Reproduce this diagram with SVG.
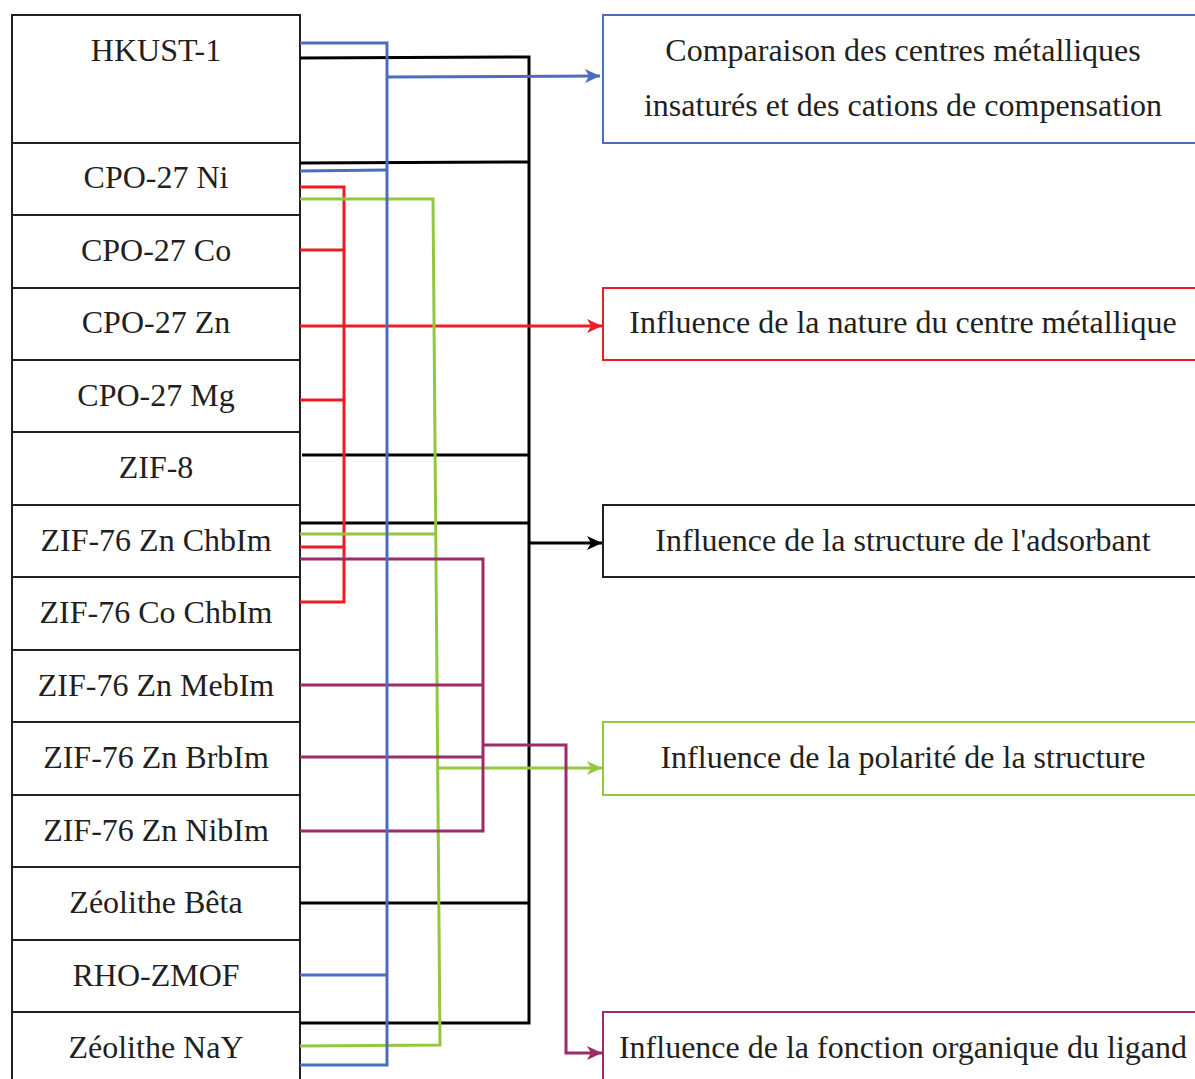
<svg xmlns="http://www.w3.org/2000/svg" width="1195" height="1079" viewBox="0 0 1195 1079">
<style>
.box{fill:#fff;stroke:#231F20;stroke-width:2}
.t{font-family:"Liberation Serif","Times New Roman",serif;font-size:32px;fill:#231F20;text-anchor:middle}
.c{fill:none;stroke-width:3;stroke-linejoin:miter}
.blue{stroke:#4A6EBD}.black{stroke:#000}.red{stroke:#EE1C25}.green{stroke:#92C83E}.purple{stroke:#9B2C6A}
</style>
<defs>
<marker id="aBlue" markerUnits="userSpaceOnUse" markerWidth="16" markerHeight="14" refX="15" refY="7" orient="auto"><path d="M0,0 L15,7 L0,14 L4,7 z" fill="#4A6EBD"/></marker>
<marker id="aBlack" markerUnits="userSpaceOnUse" markerWidth="16" markerHeight="14" refX="15" refY="7" orient="auto"><path d="M0,0 L15,7 L0,14 L4,7 z" fill="#000"/></marker>
<marker id="aRed" markerUnits="userSpaceOnUse" markerWidth="16" markerHeight="14" refX="15" refY="7" orient="auto"><path d="M0,0 L15,7 L0,14 L4,7 z" fill="#EE1C25"/></marker>
<marker id="aGreen" markerUnits="userSpaceOnUse" markerWidth="16" markerHeight="14" refX="15" refY="7" orient="auto"><path d="M0,0 L15,7 L0,14 L4,7 z" fill="#92C83E"/></marker>
<marker id="aPurple" markerUnits="userSpaceOnUse" markerWidth="16" markerHeight="14" refX="15" refY="7" orient="auto"><path d="M0,0 L15,7 L0,14 L4,7 z" fill="#9B2C6A"/></marker>
</defs>
<g id="n-hkust"><rect class="box" x="12" y="15" width="288" height="128"/><text class="t" x="156" y="61">HKUST-1</text></g>
<g id="n-cpo-ni"><rect class="box" x="12" y="143" width="288" height="72"/><text class="t" x="156" y="188">CPO-27 Ni</text></g>
<g id="n-cpo-co"><rect class="box" x="12" y="215" width="288" height="73"/><text class="t" x="156" y="261">CPO-27 Co</text></g>
<g id="n-cpo-zn"><rect class="box" x="12" y="288" width="288" height="72"/><text class="t" x="156" y="333">CPO-27 Zn</text></g>
<g id="n-cpo-mg"><rect class="box" x="12" y="360" width="288" height="72"/><text class="t" x="156" y="406">CPO-27 Mg</text></g>
<g id="n-zif8"><rect class="box" x="12" y="432" width="288" height="73"/><text class="t" x="156" y="478">ZIF-8</text></g>
<g id="n-zif76-zn-chb"><rect class="box" x="12" y="505" width="288" height="72"/><text class="t" x="156" y="551">ZIF-76 Zn ChbIm</text></g>
<g id="n-zif76-co-chb"><rect class="box" x="12" y="577" width="288" height="73"/><text class="t" x="156" y="623">ZIF-76 Co ChbIm</text></g>
<g id="n-zif76-zn-meb"><rect class="box" x="12" y="650" width="288" height="72"/><text class="t" x="156" y="696">ZIF-76 Zn MebIm</text></g>
<g id="n-zif76-zn-brb"><rect class="box" x="12" y="722" width="288" height="73"/><text class="t" x="156" y="768">ZIF-76 Zn BrbIm</text></g>
<g id="n-zif76-zn-nib"><rect class="box" x="12" y="795" width="288" height="72"/><text class="t" x="156" y="841">ZIF-76 Zn NibIm</text></g>
<g id="n-beta"><rect class="box" x="12" y="867" width="288" height="73"/><text class="t" x="156" y="913">Zéolithe Bêta</text></g>
<g id="n-rho"><rect class="box" x="12" y="940" width="288" height="72"/><text class="t" x="156" y="986">RHO-ZMOF</text></g>
<g id="n-nay"><rect class="box" x="12" y="1012" width="288" height="80"/><text class="t" x="156" y="1058">Zéolithe NaY</text></g>

<g id="r-comparaison"><rect class="box" x="603" y="15" width="610" height="128" style="stroke:#4A6EBD"/><text class="t" x="903" y="61">Comparaison des centres métalliques</text><text class="t" x="903" y="116">insaturés et des cations de compensation</text></g>
<g id="r-nature"><rect class="box" x="603" y="288" width="610" height="72" style="stroke:#EE1C25"/><text class="t" x="903" y="333">Influence de la nature du centre métallique</text></g>
<g id="r-structure"><rect class="box" x="603" y="505" width="610" height="72"/><text class="t" x="903" y="551">Influence de la structure de l'adsorbant</text></g>
<g id="r-polarite"><rect class="box" x="603" y="722" width="610" height="73" style="stroke:#92C83E"/><text class="t" x="903" y="768">Influence de la polarité de la structure</text></g>
<g id="r-fonction"><rect class="box" x="603" y="1012" width="610" height="80" style="stroke:#9B2C6A"/><text class="t" x="903" y="1058">Influence de la fonction organique du ligand</text></g>

<g id="connectors">
<polyline class="c black" points="300,58 529,57 529,1023 300,1023"/>
<line class="c black" x1="300" y1="163" x2="529" y2="162"/>
<line class="c black" x1="302" y1="455" x2="529" y2="455"/>
<line class="c black" x1="300" y1="523" x2="529" y2="523"/>
<line class="c black" x1="300" y1="903" x2="529" y2="903"/>
<line class="c black" x1="529" y1="543" x2="602" y2="543" marker-end="url(#aBlack)"/>
<polyline class="c red" points="300,187 344,187 344,602 300,602"/>
<line class="c red" x1="300" y1="250" x2="344" y2="250"/>
<line class="c red" x1="300" y1="400" x2="344" y2="400"/>
<line class="c red" x1="300" y1="547" x2="344" y2="547"/>
<line class="c red" x1="300" y1="326" x2="602" y2="326" marker-end="url(#aRed)"/>
<polyline class="c green" points="300,199 433,199 440,1045 300,1046"/>
<line class="c green" x1="300" y1="534" x2="435" y2="534"/>
<line class="c green" x1="437" y1="768" x2="602" y2="768" marker-end="url(#aGreen)"/>
<polyline class="c purple" points="300,559 483,559 483,831 300,831"/>
<line class="c purple" x1="300" y1="685" x2="483" y2="685"/>
<line class="c purple" x1="300" y1="757" x2="483" y2="757"/>
<polyline class="c purple" points="483,745 566,745 566,1053 602,1053" marker-end="url(#aPurple)"/>
<polyline class="c blue" points="300,43 387,43 387,1065 300,1065"/>
<line class="c blue" x1="300" y1="171" x2="387" y2="170"/>
<line class="c blue" x1="300" y1="975" x2="387" y2="975"/>
<line class="c blue" x1="387" y1="77" x2="600" y2="76" marker-end="url(#aBlue)"/>
</g>
</svg>
